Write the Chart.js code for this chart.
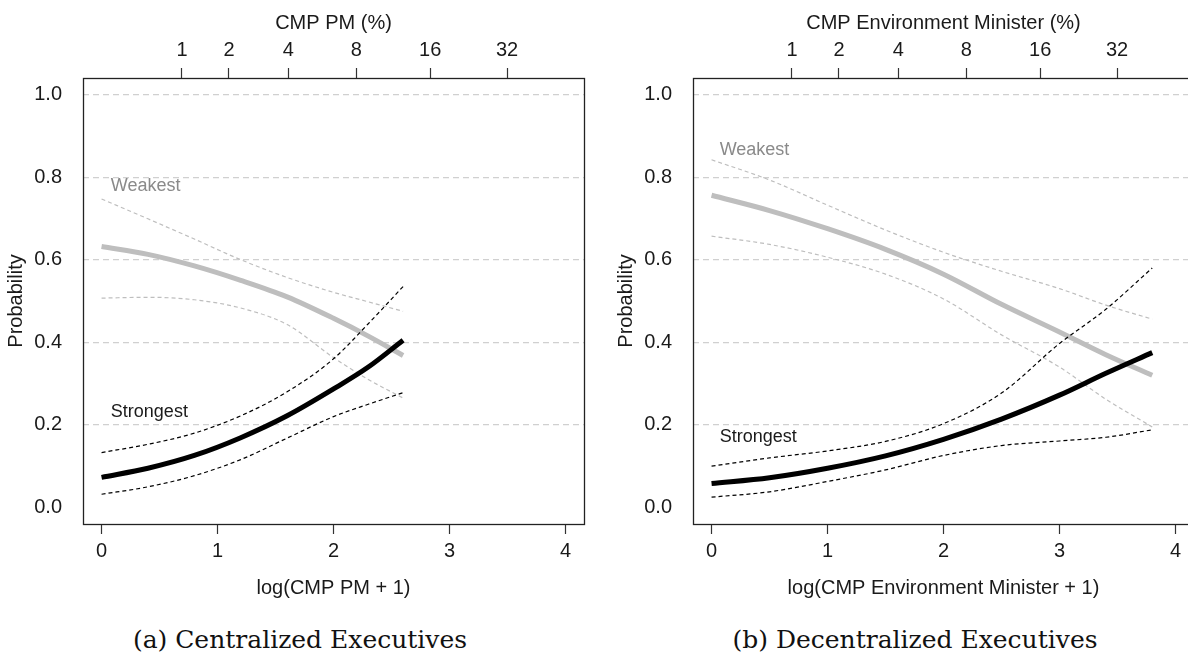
<!DOCTYPE html>
<html>
<head>
<meta charset="utf-8">
<script src="https://cdn.jsdelivr.net/npm/chart.js@4.4.1/dist/chart.umd.min.js"></script>
<style>
  html, body { margin: 0; padding: 0; background: #fff; width: 1188px; height: 665px; overflow: hidden; }
  .panel { position: absolute; top: 0; }
  .cap { position: absolute; top: 625px; width: 500px; text-align: center;
         font-family: "DejaVu Serif", serif; font-size: 25px; color: #111; line-height: 30px; }
</style>
</head>
<body>
<canvas id="left" class="panel" width="594" height="610" style="left:0px"></canvas>
<canvas id="right" class="panel" width="594" height="610" style="left:610px"></canvas>
<div class="cap" style="left:50px">(a) Centralized Executives</div>
<div class="cap" style="left:665px">(b) Decentralized Executives</div>
<script>
// tick values
const xTicks = [0, 1, 2, 3, 4];
const topTickLabels = [1, 2, 4, 8, 16, 32];
const yTicks = [0, 0.2, 0.4, 0.6, 0.8, 1.0];

// panel (a) - CMP PM
const leftX = [0, 0.4, 0.8, 1.2, 1.6, 2.0, 2.3, 2.6];
const leftWeak = [0.632, 0.613, 0.585, 0.550, 0.510, 0.458, 0.415, 0.368];
const leftWeakHi = [0.747, 0.699, 0.650, 0.600, 0.557, 0.521, 0.498, 0.475];
const leftWeakLo = [0.507, 0.509, 0.503, 0.483, 0.443, 0.363, 0.310, 0.265];
const leftStrong = [0.073, 0.095, 0.126, 0.169, 0.222, 0.287, 0.340, 0.405];
const leftStrongHi = [0.133, 0.153, 0.180, 0.222, 0.280, 0.360, 0.445, 0.535];
const leftStrongLo = [0.032, 0.050, 0.077, 0.116, 0.168, 0.220, 0.250, 0.278];

// panel (b) - CMP Environment Minister
const rightX = [0, 0.5, 1.0, 1.5, 2.0, 2.5, 3.0, 3.4, 3.8];
const rightWeak = [0.756, 0.719, 0.675, 0.625, 0.565, 0.492, 0.425, 0.370, 0.320];
const rightWeakHi = [0.842, 0.793, 0.732, 0.672, 0.618, 0.572, 0.530, 0.490, 0.456];
const rightWeakLo = [0.657, 0.637, 0.606, 0.565, 0.505, 0.418, 0.340, 0.262, 0.195];
const rightStrong = [0.058, 0.072, 0.095, 0.125, 0.165, 0.214, 0.272, 0.325, 0.375];
const rightStrongHi = [0.100, 0.120, 0.137, 0.160, 0.203, 0.277, 0.397, 0.480, 0.580];
const rightStrongLo = [0.025, 0.038, 0.063, 0.091, 0.126, 0.150, 0.161, 0.170, 0.188];

const GRAY = '#bebebe';
const TXT = '#1a1a1a';
Chart.defaults.font.family = '"Liberation Sans", Arial, sans-serif';
Chart.defaults.font.size = 20;
Chart.defaults.color = TXT;

function pts(xs, ys) {
  return xs.map((x, i) => ({ x: x, y: ys[i] }));
}

function line(data, color, width, dash) {
  return {
    data: data, borderColor: color, borderWidth: width, borderDash: dash || [],
    pointRadius: 0, cubicInterpolationMode: 'monotone', fill: false, borderCapStyle: 'butt'
  };
}

// box round the plot area plus the two curve labels
const boxPlugin = {
  id: 'box',
  afterDraw(chart, args, opts) {
    const ctx = chart.ctx;
    const a = chart.chartArea;
    ctx.save();
    ctx.strokeStyle = '#222';
    ctx.lineWidth = 1.3;
    ctx.strokeRect(a.left + 0.5, a.top + 0.5, a.right - a.left, a.bottom - a.top);
    ctx.font = '18px "Liberation Sans", Arial, sans-serif';
    ctx.textBaseline = 'middle';
    ctx.textAlign = 'left';
    (opts.labels || []).forEach(l => {
      ctx.fillStyle = l.color;
      ctx.fillText(l.text, chart.scales.x.getPixelForValue(l.x), chart.scales.y.getPixelForValue(l.y));
    });
    ctx.restore();
  }
};

function makePanel(id, xs, s, topTitle, bottomTitle, labels) {
  const ctx = document.getElementById(id).getContext('2d');
  return new Chart(ctx, {
    type: 'line',
    data: {
      datasets: [
        line(pts(xs, s.strong), '#000', 5),
        line(pts(xs, s.strongHi), '#000', 1.2, [4, 3]),
        line(pts(xs, s.strongLo), '#000', 1.2, [4, 3]),
        line(pts(xs, s.weak), GRAY, 5),
        line(pts(xs, s.weakHi), GRAY, 1.2, [4, 3]),
        line(pts(xs, s.weakLo), GRAY, 1.2, [4, 3])
      ]
    },
    options: {
      responsive: false,
      animation: false,
      layout: { padding: { left: 0, right: 10, top: 0, bottom: 0 } },
      plugins: { legend: { display: false }, tooltip: { enabled: false }, box: { labels: labels } },
      scales: {
        x: {
          type: 'linear', position: 'bottom', min: -0.16, max: 4.16,
          afterBuildTicks: sc => { sc.ticks = xTicks.map(v => ({ value: v })); },
          afterFit: sc => { sc.height = 86; },
          grid: { drawOnChartArea: false, tickLength: 10, color: '#333', tickWidth: 1.2 },
          border: { display: false },
          ticks: { padding: 5, autoSkip: false, maxRotation: 0, callback: v => String(v) },
          title: { display: true, text: bottomTitle, padding: { top: 0, bottom: 10 } }
        },
        xTop: {
          type: 'linear', position: 'top', min: -0.16, max: 4.16,
          afterBuildTicks: sc => { sc.ticks = topTickLabels.map(v => ({ value: Math.log(v + 1) })); },
          afterFit: sc => { sc.height = 78; },
          grid: { drawOnChartArea: false, tickLength: 10, color: '#333', tickWidth: 1.2 },
          border: { display: false },
          ticks: { padding: 6, autoSkip: false, maxRotation: 0, callback: (v, i) => String(topTickLabels[i]) },
          title: { display: true, text: topTitle, padding: { top: 11, bottom: 0 } }
        },
        y: {
          type: 'linear', position: 'left', min: -0.04, max: 1.04,
          afterBuildTicks: sc => { sc.ticks = yTicks.map(v => ({ value: v })); },
          afterFit: sc => { sc.width = 83; },
          grid: {
            drawTicks: false, lineWidth: 1.2,
            color: c => (c.tick && c.tick.value === 0) ? 'rgba(0,0,0,0)' : '#d0d0d0'
          },
          border: { display: false, dash: [6, 4] },
          ticks: { padding: 21, callback: v => v.toFixed(1) },
          title: { display: true, text: 'Probability', padding: { top: 4, bottom: 0 } }
        }
      }
    },
    plugins: [boxPlugin]
  });
}

makePanel('left', leftX,
  { weak: leftWeak, weakHi: leftWeakHi, weakLo: leftWeakLo, strong: leftStrong, strongHi: leftStrongHi, strongLo: leftStrongLo },
  'CMP PM (%)', 'log(CMP PM + 1)',
  [{ text: 'Weakest', x: 0.08, y: 0.778, color: '#8a8a8a' }, { text: 'Strongest', x: 0.08, y: 0.23, color: TXT }]);

makePanel('right', rightX,
  { weak: rightWeak, weakHi: rightWeakHi, weakLo: rightWeakLo, strong: rightStrong, strongHi: rightStrongHi, strongLo: rightStrongLo },
  'CMP Environment Minister (%)', 'log(CMP Environment Minister + 1)',
  [{ text: 'Weakest', x: 0.07, y: 0.866, color: '#8a8a8a' }, { text: 'Strongest', x: 0.07, y: 0.171, color: TXT }]);
</script>
</body>
</html>
